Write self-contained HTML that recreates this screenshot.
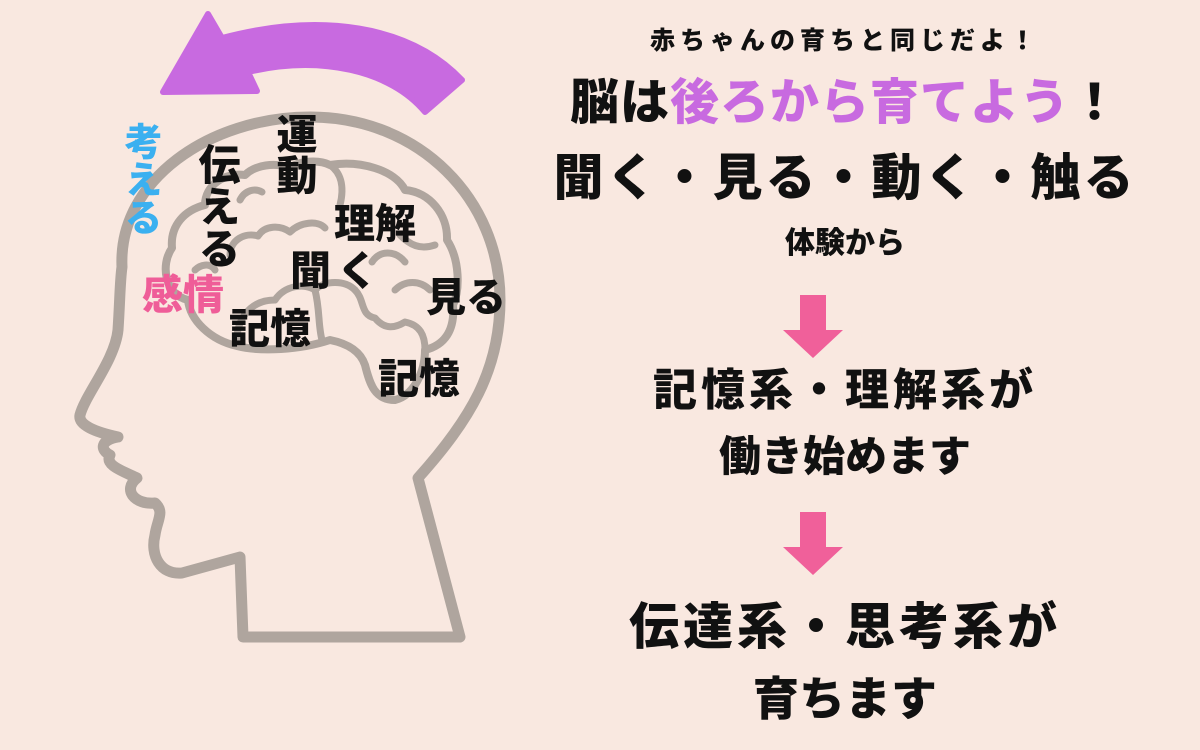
<!DOCTYPE html>
<html><head><meta charset="utf-8"><style>
body{margin:0;width:1200px;height:750px;background:#f9e8e0;overflow:hidden;position:relative;font-family:"Liberation Sans","Noto Sans CJK JP",sans-serif;font-weight:900;}
.t{position:absolute;white-space:nowrap;color:#111;line-height:1;}
.c{left:0;width:1690px;text-align:center;}
.v{writing-mode:vertical-rl;}
</style></head><body>
<svg width="1200" height="750" style="position:absolute;left:0;top:0">
<g fill="none" stroke="#afa59e" stroke-linecap="round" stroke-linejoin="round">
<path stroke-width="11" d="M122,267 C118,180 210,117 310,117 C420,117 500,200 500,300 C500,370 470,420 418,478 L460,637 L243,637 L240,557 L182,573 C160,575 150,555 155,535 C157,520 165,512 155,503 C135,505 122,490 137,478 C120,470 105,465 110,455 C100,450 100,440 118,437 C95,432 78,425 80,415 C85,395 115,360 118,330 C120,300 120,280 122,267 Z"/>
<path stroke-width="8" d="M237,346 C210,340 190,320 188,300 C165,295 160,265 172,248 C170,225 185,210 205,205 C205,185 225,172 245,175 C255,165 275,162 290,168 C300,160 320,160 330,165 C360,160 395,170 405,190 C430,192 448,215 447,240 C460,260 460,290 453,305 C455,330 445,345 425,350 C425,370 415,395 395,400 C375,400 370,385 365,365 C360,350 345,343 330,340 C300,350 260,352 237,346 Z"/>
<path stroke-width="7" d="M237,346 C235,320 250,300 275,300 C285,285 305,283 315,290 C325,280 345,280 355,290"/>
<path stroke-width="7" d="M230,255 C230,240 245,232 258,236 C265,225 280,225 290,232 C300,222 318,220 325,228"/>
<path stroke-width="7" d="M240,200 C245,190 255,188 262,192"/>
<path stroke-width="7" d="M330,165 C340,172 345,185 340,205"/>
<path stroke-width="7" d="M355,290 C365,300 360,315 375,318 C385,330 395,328 405,322 C420,325 425,335 425,350"/>
<path stroke-width="7" d="M400,235 C410,245 420,250 435,245"/>
<path stroke-width="7" d="M395,290 C405,280 420,280 430,290"/>
<path stroke-width="7" d="M372,262 C380,250 395,250 405,262"/>
<path stroke-width="7" d="M315,290 C320,310 318,325 322,340"/>
<path stroke-width="7" d="M195,270 C200,265 210,262 215,270"/>
</g>
<path fill="#c86ae0" stroke="#c86ae0" stroke-width="6" stroke-linejoin="round" d="M208,14 L163,92 L257,91 L248,72 C320,55 390,70 425,112 L462,80 C410,25 320,12 222,38 Z"/>
<path fill="#f0609a" d="M800,295 H826 V330 H843 L813,358 L783,330 H800 Z"/>
<path fill="#f0609a" d="M800,512 H826 V547 H843 L813,575 L783,547 H800 Z"/>
</svg>
<div class="t v" style="left:120px;top:122px;font-size:38px;color:#3bb0f0;">考える</div>
<div class="t v" style="left:195px;top:143px;font-size:42px;">伝える</div>
<div class="t v" style="left:272px;top:113px;font-size:41px;">運動</div>
<div class="t" style="left:334px;top:204px;font-size:41px;">理解</div>
<div class="t" style="left:290px;top:251px;font-size:41px;letter-spacing:6px;">聞く</div>
<div class="t" style="left:426px;top:278px;font-size:40px;">見る</div>
<div class="t" style="left:142px;top:275px;font-size:41px;color:#ef5d98;">感情</div>
<div class="t" style="left:229px;top:309px;font-size:41px;">記憶</div>
<div class="t" style="left:378px;top:359px;font-size:41px;">記憶</div>
<div class="t c" style="top:29px;font-size:25px;letter-spacing:5px;">赤ちゃんの育ちと同じだよ！</div>
<div class="t c" style="top:79px;font-size:49px;letter-spacing:1px;">脳は<span style="color:#c86ae0">後ろから育てよう</span>！</div>
<div class="t c" style="top:153px;font-size:50px;letter-spacing:3px;">聞く・見る・動く・触る</div>
<div class="t c" style="top:229px;font-size:30px;">体験から</div>
<div class="t c" style="top:369px;font-size:44px;letter-spacing:4px;">記憶系・理解系が</div>
<div class="t c" style="top:436px;font-size:42px;">働き始めます</div>
<div class="t c" style="top:602px;font-size:50px;letter-spacing:4px;">伝達系・思考系が</div>
<div class="t c" style="top:676px;font-size:46px;">育ちます</div>
</body></html>
